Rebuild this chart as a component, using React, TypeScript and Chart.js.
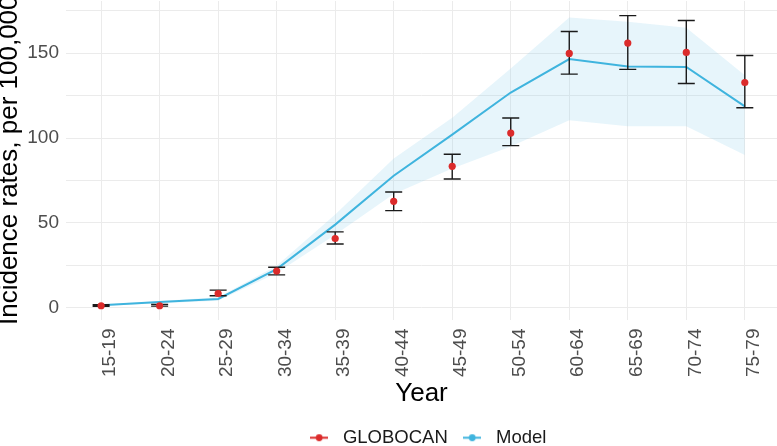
import React, { useEffect, useRef } from 'react';
import { Chart, registerables } from 'chart.js';

Chart.register(...registerables);

// ---- data ----
const categories = ['15-19', '20-24', '25-29', '30-34', '35-39', '40-44', '45-49', '50-54', '60-64', '65-69', '70-74', '75-79'];
const globocan = [1.2, 1.2, 8.4, 21.6, 40.8, 62.7, 83.3, 102.9, 149.8, 155.9, 150.4, 132.7];
const globocanLow = [0.9, 1.0, 7.1, 19.4, 37.6, 57.2, 75.9, 95.5, 137.6, 140.4, 132.1, 117.8];
const globocanHigh = [1.8, 2.0, 10.4, 23.9, 44.7, 68.2, 90.4, 111.8, 162.7, 172.1, 169.2, 148.6];
const model = [1.5, 3.4, 5.2, 22.8, 49.0, 77.8, 102.0, 126.8, 146.5, 142.1, 141.8, 118.6];
const modelLow = [1.0, 2.6, 4.2, 20.5, 43.0, 67.0, 82.0, 95.0, 110.5, 107.0, 107.0, 90.0];
const modelHigh = [2.0, 4.0, 6.2, 24.8, 55.0, 88.0, 112.0, 141.0, 171.0, 168.5, 165.0, 137.0];
const yTickValues = [0, 25, 50, 75, 100, 125, 150, 175];
const yLabelEvery = 50;
const seriesNames = ['GLOBOCAN', 'Model'];
const xTitle = 'Year';
const yTitle = 'Incidence rates, per 100,000';

// ---- styles ----
const FONT = '"Liberation Sans", Arial, Helvetica, sans-serif';
const RED = '#DB2B2B';
const BLUE = '#3FB4DE';
const BAND = 'rgba(135,206,235,0.2)';
const GRID = '#EBEBEB';
const TICK = '#4D4D4D';

function makeGlyph(color: string): HTMLCanvasElement {
  const c = document.createElement('canvas');
  c.width = 18;
  c.height = 9;
  const g = c.getContext('2d')!;
  g.strokeStyle = color;
  g.lineWidth = 2;
  g.beginPath();
  g.moveTo(0, 4.5);
  g.lineTo(18, 4.5);
  g.stroke();
  g.fillStyle = color;
  g.beginPath();
  g.arc(9, 4.5, 3.4, 0, Math.PI * 2);
  g.fill();
  return c;
}

export default function App() {
  const ref = useRef<HTMLCanvasElement>(null);

  useEffect(() => {
    document.body.style.margin = '0';
    const canvas = ref.current;
    if (!canvas) return;
    const toPts = (arr: number[]) => arr.map((y, i) => ({ x: i, y }));
    const glyphRed = makeGlyph(RED);
    const glyphBlue = makeGlyph(BLUE);

    const errorBars = {
      id: 'errorBars',
      beforeDatasetDraw(chart: any, args: any) {
        if (args.index !== 0) return;
        const { ctx, scales } = chart;
        const x = scales.x;
        const y = scales.y;
        const half = 8.5;
        ctx.save();
        ctx.strokeStyle = '#1A1A1A';
        ctx.lineWidth = 1.4;
        categories.forEach((_, i) => {
          const px = x.getPixelForValue(i);
          const lo = y.getPixelForValue(globocanLow[i]);
          const hi = y.getPixelForValue(globocanHigh[i]);
          ctx.beginPath();
          ctx.moveTo(px, lo);
          ctx.lineTo(px, hi);
          ctx.moveTo(px - half, lo);
          ctx.lineTo(px + half, lo);
          ctx.moveTo(px - half, hi);
          ctx.lineTo(px + half, hi);
          ctx.stroke();
        });
        ctx.restore();
      },
    };

    // nudge the legend slightly right, as in the reference (centred a bit right of the panel)
    const legendShift = {
      id: 'legendShift',
      afterLayout(chart: any) {
        if (chart.legend) chart.legend.left += 8;
      },
    };

    const chart = new Chart(canvas, {
      type: 'line',
      data: {
        datasets: [
          {
            label: seriesNames[0],
            data: toPts(globocan),
            showLine: false,
            pointRadius: 3.6,
            pointBackgroundColor: RED,
            pointBorderWidth: 0,
            borderColor: RED,
          },
          {
            label: seriesNames[1],
            data: toPts(model),
            borderColor: BLUE,
            borderWidth: 2,
            pointRadius: 0,
            tension: 0,
            fill: false,
          },
          {
            label: 'upper',
            data: toPts(modelHigh),
            borderWidth: 0,
            borderColor: 'rgba(0,0,0,0)',
            pointRadius: 0,
            backgroundColor: BAND,
            fill: '+1',
          },
          {
            label: 'lower',
            data: toPts(modelLow),
            borderWidth: 0,
            borderColor: 'rgba(0,0,0,0)',
            pointRadius: 0,
            fill: false,
          },
        ],
      },
      options: {
        responsive: false,
        animation: false,
        layout: { autoPadding: false, padding: { top: 1, left: 0, right: 0, bottom: -11 } },
        plugins: {
          tooltip: { enabled: false },
          legend: {
            position: 'bottom',
            fullSize: false,
            labels: {
              usePointStyle: true,
              pointStyleWidth: 29,
              padding: 10,
              color: '#1A1A1A',
              font: { family: FONT, size: 18.5 },
              generateLabels: () => [
                { text: seriesNames[0], pointStyle: glyphRed, fillStyle: RED, strokeStyle: RED, lineWidth: 0, hidden: false, datasetIndex: 0, fontColor: '#1A1A1A' },
                { text: seriesNames[1], pointStyle: glyphBlue, fillStyle: BLUE, strokeStyle: BLUE, lineWidth: 0, hidden: false, datasetIndex: 1, fontColor: '#1A1A1A' },
              ] as any,
            },
          },
        },
        scales: {
          x: {
            type: 'linear',
            min: -0.6,
            max: 11.55,
            afterBuildTicks: (s: any) => {
              s.ticks = categories.map((_, i) => ({ value: i }));
            },
            afterFit: (s: any) => {
              s.height = 99;
            },
            grid: { color: GRID, lineWidth: 1, drawTicks: true, tickLength: 9, tickColor: 'rgba(0,0,0,0)' },
            border: { display: false },
            ticks: {
              autoSkip: false,
              minRotation: 90,
              maxRotation: 90,
              padding: 0,
              labelOffset: 9,
              color: TICK,
              font: { family: FONT, size: 19 },
              callback: (v: any) => categories[v] ?? '',
            },
            title: {
              display: true,
              text: xTitle,
              color: '#000',
              font: { family: FONT, size: 26 },
              padding: { top: 0, bottom: 9 },
            },
          },
          y: {
            min: -6.9,
            max: 180.7,
            afterBuildTicks: (s: any) => {
              s.ticks = yTickValues.map((v) => ({ value: v }));
            },
            afterFit: (s: any) => {
              s.width = 66;
            },
            grid: { color: GRID, lineWidth: 1, drawTicks: true, tickLength: 7, tickColor: 'rgba(0,0,0,0)' },
            border: { display: false },
            ticks: {
              padding: 0,
              color: TICK,
              font: (ctx: any) => ({ family: FONT, size: ctx.tick && ctx.tick.value % yLabelEvery === 0 ? 19 : 1 }),
              callback: (v: any) => (v % yLabelEvery === 0 ? String(v) : ''),
            },
            title: {
              display: true,
              text: yTitle,
              color: '#000',
              font: { family: FONT, size: 26 },
              padding: { top: -6, bottom: 0 },
            },
          },
        },
      },
      plugins: [errorBars, legendShift],
    } as any);

    return () => chart.destroy();
  }, []);

  return (
    <div style={{ position: 'fixed', left: 0, top: 0, width: 777, height: 446, background: '#fff' }}>
      <canvas ref={ref} width={777} height={446} style={{ width: 777, height: 446, display: 'block' }} />
    </div>
  );
}
